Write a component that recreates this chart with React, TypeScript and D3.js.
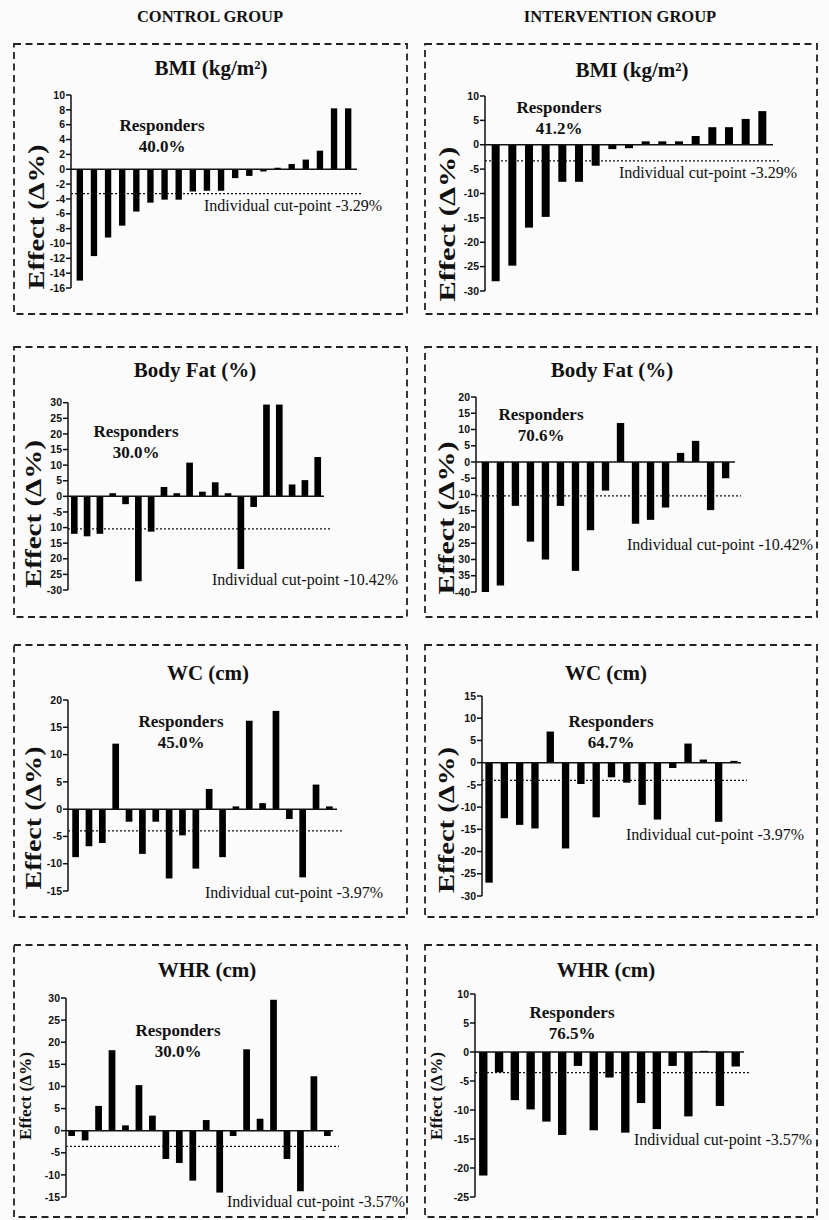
import * as d3 from 'd3';

// Header labels
const groupHeaders = ['CONTROL GROUP', 'INTERVENTION GROUP'];

// Per-subject effect values (Δ%)
const bmiControl = [-15, -11.7, -9.2, -7.6, -5.7, -4.5, -4.1, -4.1, -3.0, -2.9, -2.9, -1.2, -0.9, -0.3, 0.2, 0.7, 1.3, 2.5, 8.2, 8.2];
const bmiIntervention = [-28, -24.8, -17, -14.8, -7.6, -7.6, -4.3, -0.9, -0.7, 0.7, 0.7, 0.7, 1.8, 3.6, 3.6, 5.3, 6.9];
const fatControl = [-12, -12.8, -12, 1, -2.5, -27.2, -11.3, 3, 1, 10.8, 1.5, 4.5, 1, -23.3, -3.4, 29.4, 29.4, 3.8, 5.2, 12.6];
const fatIntervention = [-40, -38, -13.5, -24.5, -30, -13.5, -33.5, -21, -8.8, 12, -19, -17.8, -14, 2.8, 6.5, -14.8, -5];
const wcControl = [-8.8, -6.8, -6.2, 12, -2.3, -8.2, -2.3, -12.7, -4.8, -10.9, 3.7, -8.8, 0.5, 16.2, 1.1, 18, -1.8, -12.5, 4.5, 0.5];
const wcIntervention = [-27, -12.5, -14, -14.8, 7, -19.3, -4.8, -12.3, -3.3, -4.5, -9.5, -12.8, -1.2, 4.3, 0.7, -13.3, 0.4];
const whrControl = [-1.2, -2.2, 5.6, 18.2, 1.2, 10.3, 3.4, -6.4, -7.3, -11.3, 2.4, -14, -1.2, 18.4, 2.7, 29.6, -6.4, -13.7, 12.3, -1.2];
const whrIntervention = [-21.3, -3.5, -8.3, -9.9, -12, -14.3, -2.4, -13.5, -4.4, -13.9, -8.8, -13.3, -2.4, -11.1, 0.2, -9.3, -2.5];

// Titles, responder rates, cut-points
const titles = ['BMI (kg/m²)', 'Body Fat (%)', 'WC (cm)', 'WHR (cm)'];
const respondersControl = ['40.0%', '30.0%', '45.0%', '30.0%'];
const respondersIntervention = ['41.2%', '70.6%', '64.7%', '76.5%'];
const cutPoints = [-3.29, -10.42, -3.97, -3.57];

// Tick values and labels (labels copied as printed, some minus signs are missing in the original)
const ticksBmiC = d3.range(10, -17, -2);
const ticksBmiI = d3.range(10, -31, -5);
const ticksFatC = d3.range(30, -31, -5);
const ticksFatI = d3.range(20, -41, -5);
const ticksWcC = d3.range(20, -16, -5);
const ticksWcI = d3.range(15, -31, -5);
const ticksWhrC = d3.range(30, -16, -5);
const ticksWhrI = d3.range(10, -26, -5);
const fatControlTickLabels = ['30', '25', '20', '15', '10', '5', '0', '-5', '10', '15', '20', '25', '-30'];
const fatInterventionTickLabels = ['20', '15', '10', '5', '0', '-5', '10', '15', '20', '25', '30', '35', '-40'];

type Panel = {
  values: number[];
  ticks: number[];
  tickLabels?: string[];
  title: string;
  responders: string;
  cut: number;
  // layout
  box: [number, number, number, number];
  axisX: number;
  lineEnd: number;
  yTop: number;
  yBottom: number;
  outer: number;
  inner: number;
  titleX: number;
  titleY: number;
  respX: number;
  respY: number;
  cutX: number;
  cutY: number;
  labelX: number;
  labelY: number;
  labelLen: number;
  labelSize: number;
};

const colC: [number, number] = [14, 407];
const colI: [number, number] = [425, 817];

const panels: Panel[] = [
  {
    values: bmiControl, ticks: ticksBmiC, title: titles[0], responders: respondersControl[0], cut: cutPoints[0],
    box: [colC[0], 44, colC[1], 314], axisX: 71, lineEnd: 357, yTop: 95, yBottom: 288, outer: 0.4, inner: 0.55,
    titleX: 211, titleY: 75, respX: 162, respY: 131, cutX: 204, cutY: 211,
    labelX: 36, labelY: 217, labelLen: 145, labelSize: 23,
  },
  {
    values: bmiIntervention, ticks: ticksBmiI, title: titles[0], responders: respondersIntervention[0], cut: cutPoints[0],
    box: [colI[0], 44, colI[1], 314], axisX: 485, lineEnd: 773, yTop: 96, yBottom: 291, outer: 0.4, inner: 0.52,
    titleX: 632, titleY: 77, respX: 559, respY: 113, cutX: 619, cutY: 178,
    labelX: 447, labelY: 224, labelLen: 155, labelSize: 23,
  },
  {
    values: fatControl, ticks: ticksFatC, tickLabels: fatControlTickLabels, title: titles[1], responders: respondersControl[1], cut: cutPoints[1],
    box: [colC[0], 347, colC[1], 617], axisX: 68, lineEnd: 324, yTop: 402.7, yBottom: 590, outer: 0.23, inner: 0.48,
    titleX: 195, titleY: 377, respX: 136, respY: 437, cutX: 212, cutY: 585,
    labelX: 33, labelY: 514, labelLen: 148, labelSize: 23,
  },
  {
    values: fatIntervention, ticks: ticksFatI, tickLabels: fatInterventionTickLabels, title: titles[1], responders: respondersIntervention[1], cut: cutPoints[1],
    box: [colI[0], 347, colI[1], 617], axisX: 476, lineEnd: 735, yTop: 397, yBottom: 592, outer: 0.38, inner: 0.51,
    titleX: 612, titleY: 377, respX: 541, respY: 420, cutX: 627, cutY: 550,
    labelX: 446, labelY: 518, labelLen: 153, labelSize: 23,
  },
  {
    values: wcControl, ticks: ticksWcC, title: titles[2], responders: respondersControl[2], cut: cutPoints[2],
    box: [colC[0], 645, colC[1], 917], axisX: 68, lineEnd: 337, yTop: 700, yBottom: 891, outer: 0.32, inner: 0.5,
    titleX: 208, titleY: 680, respX: 181, respY: 727, cutX: 205, cutY: 898,
    labelX: 33, labelY: 818, labelLen: 143, labelSize: 23,
  },
  {
    values: wcIntervention, ticks: ticksWcI, title: titles[2], responders: respondersIntervention[2], cut: cutPoints[2],
    box: [colI[0], 645, colI[1], 917], axisX: 482, lineEnd: 741, yTop: 696, yBottom: 896, outer: 0.22, inner: 0.52,
    titleX: 606, titleY: 680, respX: 611, respY: 727, cutX: 626, cutY: 840,
    labelX: 446, labelY: 820, labelLen: 146, labelSize: 23,
  },
  {
    values: whrControl, ticks: ticksWhrC, title: titles[3], responders: respondersControl[3], cut: cutPoints[3],
    box: [colC[0], 945, colC[1], 1217], axisX: 66, lineEnd: 333, yTop: 998, yBottom: 1197, outer: 0.17, inner: 0.5,
    titleX: 207, titleY: 977, respX: 178, respY: 1036, cutX: 227, cutY: 1207,
    labelX: 25, labelY: 1096, labelLen: 88, labelSize: 16,
  },
  {
    values: whrIntervention, ticks: ticksWhrI, title: titles[3], responders: respondersIntervention[3], cut: cutPoints[3],
    box: [colI[0], 945, colI[1], 1217], axisX: 475, lineEnd: 744, yTop: 994, yBottom: 1197, outer: 0.26, inner: 0.47,
    titleX: 606, titleY: 977, respX: 572, respY: 1018, cutX: 634, cutY: 1145,
    labelX: 436, labelY: 1096, labelLen: 88, labelSize: 16,
  },
];

const serif = '"Liberation Serif", "Times New Roman", serif';
const sans = '"Liberation Sans", Arial, sans-serif';

const BarPanel = ({ p }: { p: Panel }) => {
  const [t0, t1] = [p.ticks[0], p.ticks[p.ticks.length - 1]];
  const y = d3.scaleLinear().domain([t1, t0]).range([p.yBottom, p.yTop]);
  const x = d3
    .scaleBand<number>()
    .domain(d3.range(p.values.length))
    .range([p.axisX, p.lineEnd])
    .paddingInner(p.inner)
    .paddingOuter(p.outer);
  const [bx0, by0, bx1, by1] = p.box;

  return (
    <g>
      <rect
        x={bx0}
        y={by0}
        width={bx1 - bx0}
        height={by1 - by0}
        fill='none'
        stroke='#222'
        strokeWidth={1.8}
        strokeDasharray='7,4.5'
      />
      <text x={p.titleX} y={p.titleY} textAnchor='middle' fontFamily={serif} fontWeight='bold' fontSize={21} fill='#111'>
        {p.title}
      </text>

      {/* bars */}
      {p.values.map((v, i) => (
        <rect
          key={i}
          x={x(i)}
          width={x.bandwidth()}
          y={y(Math.max(0, v))}
          height={Math.abs(y(v) - y(0))}
          fill='#000'
        />
      ))}

      {/* zero line */}
      <line x1={p.axisX} x2={p.lineEnd} y1={y(0)} y2={y(0)} stroke='#111' strokeWidth={1.5} />

      {/* y axis */}
      <line x1={p.axisX} x2={p.axisX} y1={y(t0)} y2={y(t1)} stroke='#111' strokeWidth={1.5} />
      {p.ticks.map((t, i) => (
        <g key={t}>
          <line x1={p.axisX - 5} x2={p.axisX} y1={y(t)} y2={y(t)} stroke='#111' strokeWidth={1.5} />
          <text
            x={p.axisX - 6}
            y={y(t)}
            dy='0.35em'
            textAnchor='end'
            fontFamily={sans}
            fontWeight='bold'
            fontSize={10.5}
            fill='#111'
          >
            {p.tickLabels ? p.tickLabels[i] : String(t)}
          </text>
        </g>
      ))}

      {/* individual cut-point */}
      <line
        x1={p.axisX}
        x2={p.lineEnd + 6}
        y1={y(p.cut)}
        y2={y(p.cut)}
        stroke='#111'
        strokeWidth={1.3}
        strokeDasharray='2,2'
      />
      <text x={p.cutX} y={p.cutY} fontFamily={serif} fontSize={16} fill='#111'>
        {`Individual cut-point ${p.cut.toFixed(2)}%`}
      </text>

      {/* responders */}
      <text x={p.respX} y={p.respY} textAnchor='middle' fontFamily={serif} fontWeight='bold' fontSize={17} fill='#111'>
        Responders
      </text>
      <text x={p.respX} y={p.respY + 21} textAnchor='middle' fontFamily={serif} fontWeight='bold' fontSize={17} fill='#111'>
        {p.responders}
      </text>

      {/* y label */}
      <text
        transform={`translate(${p.labelX},${p.labelY}) rotate(-90)`}
        textAnchor='middle'
        dy='0.35em'
        fontFamily={serif}
        fontWeight='bold'
        fontSize={p.labelSize}
        textLength={p.labelLen}
        lengthAdjust='spacingAndGlyphs'
        fill='#111'
      >
        Effect (Δ%)
      </text>
    </g>
  );
};

const App = () => {
  return (
    <svg
      width={829}
      height={1220}
      style={{ position: 'absolute', left: 0, top: 0, background: '#fbfbfb' }}
    >
      <text x={210} y={22} textAnchor='middle' fontFamily={serif} fontWeight='bold' fontSize={16.5} fill='#111'>
        {groupHeaders[0]}
      </text>
      <text x={620} y={22} textAnchor='middle' fontFamily={serif} fontWeight='bold' fontSize={16.5} fill='#111'>
        {groupHeaders[1]}
      </text>
      {panels.map((p, i) => (
        <BarPanel key={i} p={p} />
      ))}
    </svg>
  );
};

export default App;
